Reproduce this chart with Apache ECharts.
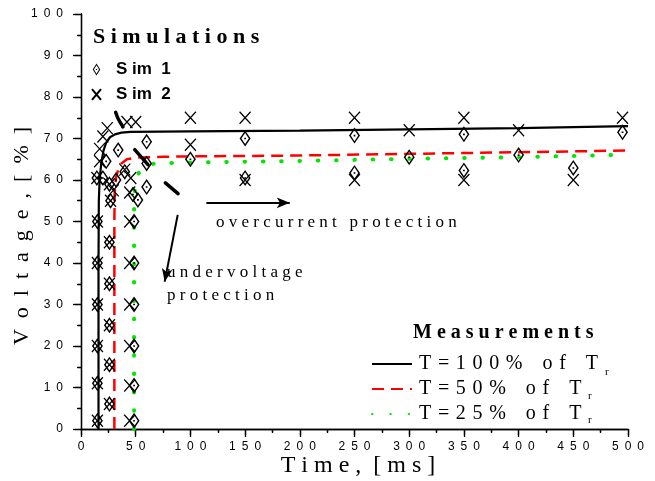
<!DOCTYPE html>
<html><head><meta charset="utf-8">
<script src="https://cdn.jsdelivr.net/npm/echarts@6/dist/echarts.min.js"></script>
<style>html,body{margin:0;padding:0;background:#fff}#c{width:655px;height:481px}</style>
</head><body><div id="c"></div>
<script>
// Measurement curves (time ms, voltage %)
const meas100 = [[16,0],[16,40],[16.3,55],[17,60],[18.5,64],[20.5,67],[23,69],[26.5,70.3],[31,71],[37,71.4],[45,71.6],[100,71.7],[200,71.9],[300,72.2],[400,72.5],[500,73]];
const meas50 = [[30.5,0],[30.5,50],[30.8,57],[32,60.5],[34,62.5],[37,64],[42,65],[50,65.4],[75,65.6],[100,65.7],[200,65.9],[300,66.3],[400,66.7],[500,67.1]];
const meas25 = [[48.5,0],[48.5,55],[49.5,58.5],[51.5,61],[54.5,62.5],[59,63.4],[66,63.9],[80,64.1],[100,64.2],[200,64.6],[300,65.1],[400,65.5],[500,66.1]];
// Simulation points
const sim1 = [[15,2],[15,11],[15,20],[15,30],[15,40],[15,50],[14.5,60.5],
  [26,6],[26,15.5],[26,25],[26,35],[26,45],[27,55],[26,59],
  [48.5,2],[48.5,10.5],[48.5,20],[48.5,30],[48.5,40],[48.5,50],
  [20,60.5],[23,64.5],[34,67.2],[32,60],[40,62],[47.5,56.5],[52,55.2],[60,69.2],[60,64],[60,58.3],
  [100,65],[150,70],[150,60.5],[250,70.7],[250,61.7],[300,65.5],[350,71],[350,62.3],[400,66],[450,62.9],[495,71.5]];
const sim2 = [[15,2],[15,11],[15,20],[15,30],[15,40],[15,50],[14.5,60.5],
  [26,6],[26,15.5],[26,25],[26,35],[26,45],[27,55],[26,59],
  [44.5,2],[44.5,10.5],[44.5,20],[44.5,30],[44.5,40],[44.5,50],
  [17,64.5],[17,67.5],[20,70.5],[24,72.5],[42,74],[50,74],[29.5,57.5],[40,62.5],[45.5,60.5],[44.5,57],
  [100,75],[100,68.5],[150,75],[150,60],[250,75],[250,60],[300,72],[350,75],[350,60],[400,72],[450,60],[495,75]];
// Annotation strokes and arrows
const strokeA = [[31.7,76.3],[33.5,75],[36,73.8],[38.4,72.8]];
const strokeB = [[49.1,67.3],[61.2,63.7]];
const strokeC = [[77.1,59.3],[88.7,56.7]];
const arrowOver = [[114.6,54.5],[190.8,54.5]];
const arrowUnder = [[88.4,51.6],[76.5,35.5]];
const measNames = ['T = 100% of Tr','T = 50% of Tr','T = 25% of Tr'];
const measLabels = ['T = 1 0 0 %   o f   T','T = 5 0 %   o f   T','T = 2 5 %   o f   T'];

const SANS = '"Liberation Sans", Arial, sans-serif';
const SERIF = '"Liberation Serif", "Times New Roman", serif';
const diamondPath = 'path://M5 0L10 8L5 16L0 8Z M5 2.4L1.6 8L5 13.6L8.4 8Z M4.2 7.2L5.8 7.2L5.8 8.8L4.2 8.8Z';
const crossPath = 'path://M0 0L10 12M10 0L0 12';
const spaced = v => String(v).split('').join('\u2002');
const wide = s => s.split(' ').join(' \u200A');

const chart = echarts.init(document.getElementById('c'), null, {renderer:'canvas'});
const strokeSeries = [strokeA, strokeB, strokeC].map((d,i) => ({
  type:'line', data:d, symbol:'none', silent:true, z:4,
  lineStyle:{color:'#000', width:3.5, cap:'round'},
  markLine: i === 0 ? {
    silent:true, symbol:['none','arrow'], symbolSize:[8,13], animation:false,
    lineStyle:{color:'#000', width:2, type:'solid'}, label:{show:false},
    data:[[{coord:arrowOver[0]},{coord:arrowOver[1]}],[{coord:arrowUnder[0]},{coord:arrowUnder[1]}]]
  } : undefined
}));

chart.setOption({
  animation:false,
  backgroundColor:'#fff',
  grid:{left:81, right:27, top:14, bottom:52},
  xAxis:[{
    type:'value', min:0, max:500, interval:50, position:'bottom',
    axisLine:{lineStyle:{color:'#000', width:1.3}},
    axisTick:{inside:false, length:6, lineStyle:{color:'#000', width:1.3}},
    minorTick:{show:true, splitNumber:2, length:4, lineStyle:{color:'#000', width:1.3}},
    splitLine:{show:false},
    axisLabel:{formatter:spaced, color:'#000', fontFamily:SANS, fontSize:12, margin:12}
  },{
    type:'value', min:0, max:500, interval:50, position:'top',
    axisLine:{lineStyle:{color:'#000', width:1.3}},
    axisTick:{inside:true, length:8, lineStyle:{color:'#000', width:1.3}},
    minorTick:{show:true, splitNumber:2, length:3, lineStyle:{color:'#000', width:1.3}},
    splitLine:{show:false}, axisLabel:{show:false}
  }],
  yAxis:[{
    type:'value', min:0, max:100, interval:10, position:'left',
    axisLine:{lineStyle:{color:'#000', width:1.3}},
    axisTick:{inside:false, length:6, lineStyle:{color:'#000', width:1.3}},
    minorTick:{show:true, splitNumber:2, length:4, lineStyle:{color:'#000', width:1.3}},
    splitLine:{show:false},
    axisLabel:{formatter:spaced, color:'#000', fontFamily:SANS, fontSize:12, margin:18}
  },{
    type:'value', min:0, max:100, interval:10, position:'right',
    axisLine:{lineStyle:{color:'#000', width:1.3}},
    axisTick:{inside:true, length:8, lineStyle:{color:'#000', width:1.3}},
    minorTick:{show:true, splitNumber:2, length:3, lineStyle:{color:'#000', width:1.3}},
    splitLine:{show:false}, axisLabel:{show:false}
  }],
  legend:[{
    data:['Sim 1','Sim 2'], orient:'vertical', left:86, top:56,
    itemWidth:9, itemHeight:12, itemGap:8, selectedMode:false,
    formatter: n => n === 'Sim 1' ? 'S im  1' : 'S im  2',
    textStyle:{fontFamily:SANS, fontWeight:'bold', fontSize:17, color:'#000', padding:[0,0,0,10], lineHeight:17}
  },{
    data:measNames, orient:'vertical', left:366, top:349,
    itemWidth:40, itemHeight:14, itemGap:5, selectedMode:false,
    itemStyle:{opacity:0},
    formatter: n => wide(measLabels[measNames.indexOf(n)]),
    textStyle:{fontFamily:SERIF, fontSize:20, color:'#000', padding:[0,0,0,2], lineHeight:20}
  }],
  series:[
    {type:'line', name:measNames[0], data:meas100, symbol:'none', z:2,
     itemStyle:{color:'#000'}, lineStyle:{color:'#000', width:2.2}},
    {type:'line', name:measNames[1], data:meas50, symbol:'none', z:2,
     itemStyle:{color:'#ff0000'}, lineStyle:{color:'#ff0000', width:2.5, type:[12,7]}},
    {type:'line', name:measNames[2], data:meas25, symbol:'none', z:2,
     itemStyle:{color:'#00e600'}, lineStyle:{color:'#00e600', width:4, type:[0.5,17.8], cap:'round'}},
    {type:'scatter', name:'Sim 1', data:sim1, symbol:diamondPath, symbolSize:[11,16], z:3,
     itemStyle:{color:'#000', borderWidth:0, opacity:1}},
    {type:'scatter', name:'Sim 2', data:sim2, symbol:crossPath, symbolSize:[11,12], z:3,
     itemStyle:{color:'rgba(0,0,0,0)', borderColor:'#000', borderWidth:1.3, opacity:1}},
    ...strokeSeries
  ],
  graphic:[
    {type:'text', x:93, y:37, style:{text:'S i m u l a t i o n s', font:'bold 22px '+SERIF, fill:'#000', align:'left', verticalAlign:'middle'}},
    {type:'text', x:413, y:333, style:{text:'M e a s u r e m e n t s', font:'bold 20px '+SERIF, fill:'#000', align:'left', verticalAlign:'middle'}},
    {type:'text', x:216, y:223, style:{text:'o v e r c u r r e n t   p r o t e c t i o n', font:'17px '+SERIF, fill:'#000', align:'left', verticalAlign:'middle'}},
    {type:'text', x:167, y:273, style:{text:'u n d e r v o l t a g e', font:'17px '+SERIF, fill:'#000', align:'left', verticalAlign:'middle'}},
    {type:'text', x:167, y:296, style:{text:'p r o t e c t i o n', font:'17px '+SERIF, fill:'#000', align:'left', verticalAlign:'middle'}},
    {type:'text', x:22, y:236, rotation:Math.PI/2, style:{text:'V  o  l  t  a  g  e  ,  [  %  ]', font:'22px '+SERIF, fill:'#000', align:'center', verticalAlign:'middle'}},
    {type:'text', x:358, y:466, style:{text:'T i m e ,  [ m s ]', font:'24px '+SERIF, fill:'#000', align:'center', verticalAlign:'middle'}},
    {type:'text', x:605, y:372, style:{text:'r', font:'11px '+SERIF, fill:'#000', align:'left', verticalAlign:'middle'}},
    {type:'text', x:588, y:396, style:{text:'r', font:'11px '+SERIF, fill:'#000', align:'left', verticalAlign:'middle'}},
    {type:'text', x:588, y:420, style:{text:'r', font:'11px '+SERIF, fill:'#000', align:'left', verticalAlign:'middle'}}
  ]
});
</script>
</body></html>
